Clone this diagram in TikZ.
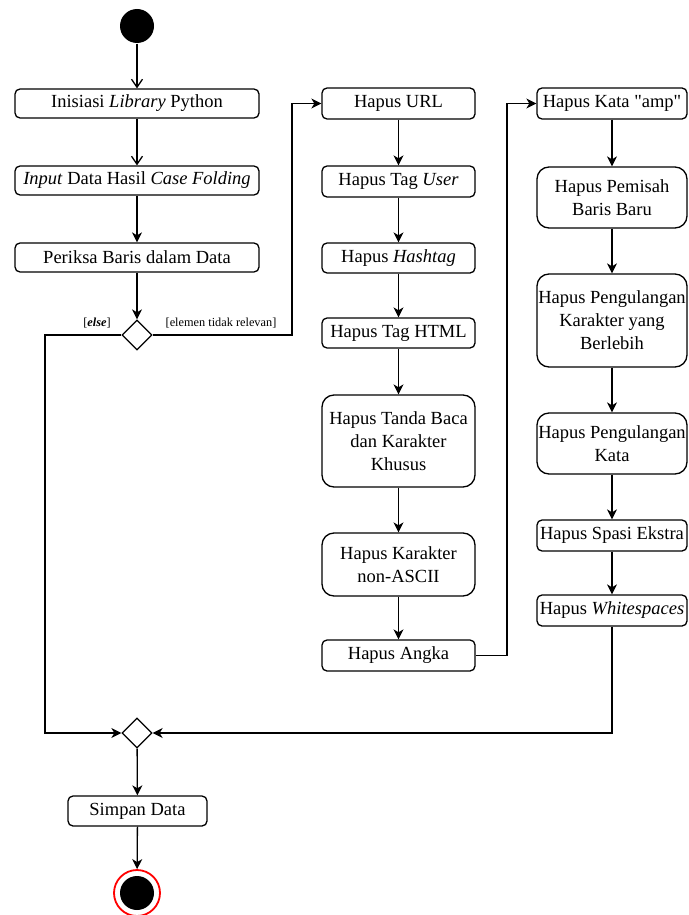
\documentclass[tikz,border=0pt]{standalone}
\usepackage{fontspec}
\setmainfont{Liberation Serif}[Ligatures=TeXOff]
\usetikzlibrary{arrows.meta,shapes.geometric}
\begin{document}
\begin{tikzpicture}[x=1pt,y=-1pt,
  every path/.style={line width=1.3pt},
  act/.style={draw, rounded corners=5pt, inner sep=0pt, align=center,
    font=\fontsize{18.5}{23}\selectfont},
  bigact/.style={act, rounded corners=12pt},
  flow/.style={-{Stealth[length=10pt,width=10pt,inset=3pt]}},
  openflow/.style={-{Straight Barb[length=8pt,width=11pt]}},
  choice/.style={draw, diamond, fill=white, minimum width=30pt, minimum height=30pt, inner sep=0pt},
  guard/.style={font=\fontsize{12.3}{14}\selectfont, inner sep=0pt}
]
\useasboundingbox (0,0) rectangle (688,915);

% start and end states
\node[circle, fill=black, minimum size=34pt, inner sep=0pt] (start) at (137,26) {};
\node[circle, draw=red, line width=1.8pt, fill=white, minimum size=46pt, inner sep=0pt] (stop) at (137,893) {};
\node[circle, fill=black, minimum size=34pt, inner sep=0pt] at (stop.center) {};

% left column
\node[act, minimum width=244pt, minimum height=29pt] (lib) at (137,103.5) {Inisiasi \textit{Library} Python};
\node[act, minimum width=244pt, minimum height=29pt] (inp) at (137,180.5) {\textit{Input} Data Hasil \textit{Case Folding}};
\node[act, minimum width=244pt, minimum height=29pt] (cek) at (137,257.5) {Periksa Baris dalam Data};
\node[choice] (dec) at (137,335) {};
\node[choice] (merge) at (137,733) {};
\node[act, minimum width=139pt, minimum height=30pt] (save) at (137.5,811) {Simpan Data};

% middle column
\node[act, minimum width=153pt, minimum height=31pt] (url) at (398.5,103.5) {Hapus URL};
\node[act, minimum width=153pt, minimum height=31pt] (user) at (398.5,181.5) {Hapus Tag \textit{User}};
\node[act, minimum width=153pt, minimum height=30pt] (hash) at (398.5,258) {Hapus \textit{Hashtag}};
\node[act, minimum width=153pt, minimum height=30pt] (html) at (398.5,333) {Hapus Tag HTML};
\node[bigact, minimum width=153pt, minimum height=92pt] (punct) at (398.5,441) {Hapus Tanda Baca\\dan Karakter\\Khusus};
\node[bigact, minimum width=153pt, minimum height=63pt] (ascii) at (398.5,564.5) {Hapus Karakter\\non-ASCII};
\node[act, minimum width=153pt, minimum height=31pt] (num) at (398.5,655.5) {Hapus Angka};

% right column
\node[act, minimum width=150pt, minimum height=31pt] (amp) at (612,103.5) {Hapus Kata "amp"};
\node[bigact, minimum width=150pt, minimum height=61pt] (nl) at (612,197.5) {Hapus Pemisah\\Baris Baru};
\node[bigact, minimum width=150pt, minimum height=93pt] (rep) at (612,320.5) {Hapus Pengulangan\\Karakter yang\\Berlebih};
\node[bigact, minimum width=150pt, minimum height=61pt] (word) at (612,443.5) {Hapus Pengulangan\\Kata};
\node[act, minimum width=150pt, minimum height=31pt] (space) at (612,535.5) {Hapus Spasi Ekstra};
\node[act, minimum width=150pt, minimum height=31pt] (ws) at (612,610.5) {Hapus \textit{Whitespaces}};

% bend points
\coordinate (elseTop) at (45,335);
\coordinate (elseBot) at (45,733);
\coordinate (relLow) at (292,335);
\coordinate (relTop) at (292,103.5);
\coordinate (numR) at (507,655.5);
\coordinate (numTop) at (507,103.5);
\coordinate (wsBot) at (612,733);

% guards
\node[guard] (gelse) at (97,323) {[\textbf{\textit{else}}]};
\node[guard] (grel) at (221,323) {[elemen tidak relevan]};

% flows
\draw[openflow] (start) -- (lib);
\draw[openflow] (lib) -- (inp);
\draw[flow] (inp) -- (cek);
\draw[flow] (cek) -- (dec);
\draw[flow] (dec.west) -- (elseTop) -- (elseBot) -- (merge.west);
\draw[flow] (dec.east) -- (relLow) -- (relTop) -- (url.west);
\draw[flow] (url) -- (user);
\draw[flow] (user) -- (hash);
\draw[flow] (hash) -- (html);
\draw[flow] (html) -- (punct);
\draw[flow] (punct) -- (ascii);
\draw[flow] (ascii) -- (num);
\draw[flow] (num.east) -- (numR) -- (numTop) -- (amp.west);
\draw[flow] (amp) -- (nl);
\draw[flow] (nl) -- (rep);
\draw[flow] (rep) -- (word);
\draw[flow] (word) -- (space);
\draw[flow] (space) -- (ws);
\draw[flow] (ws.south) -- (wsBot) -- (merge.east);
\draw[flow] (merge) -- (save);
\draw[flow] (save) -- (stop);
\end{tikzpicture}
\end{document}
